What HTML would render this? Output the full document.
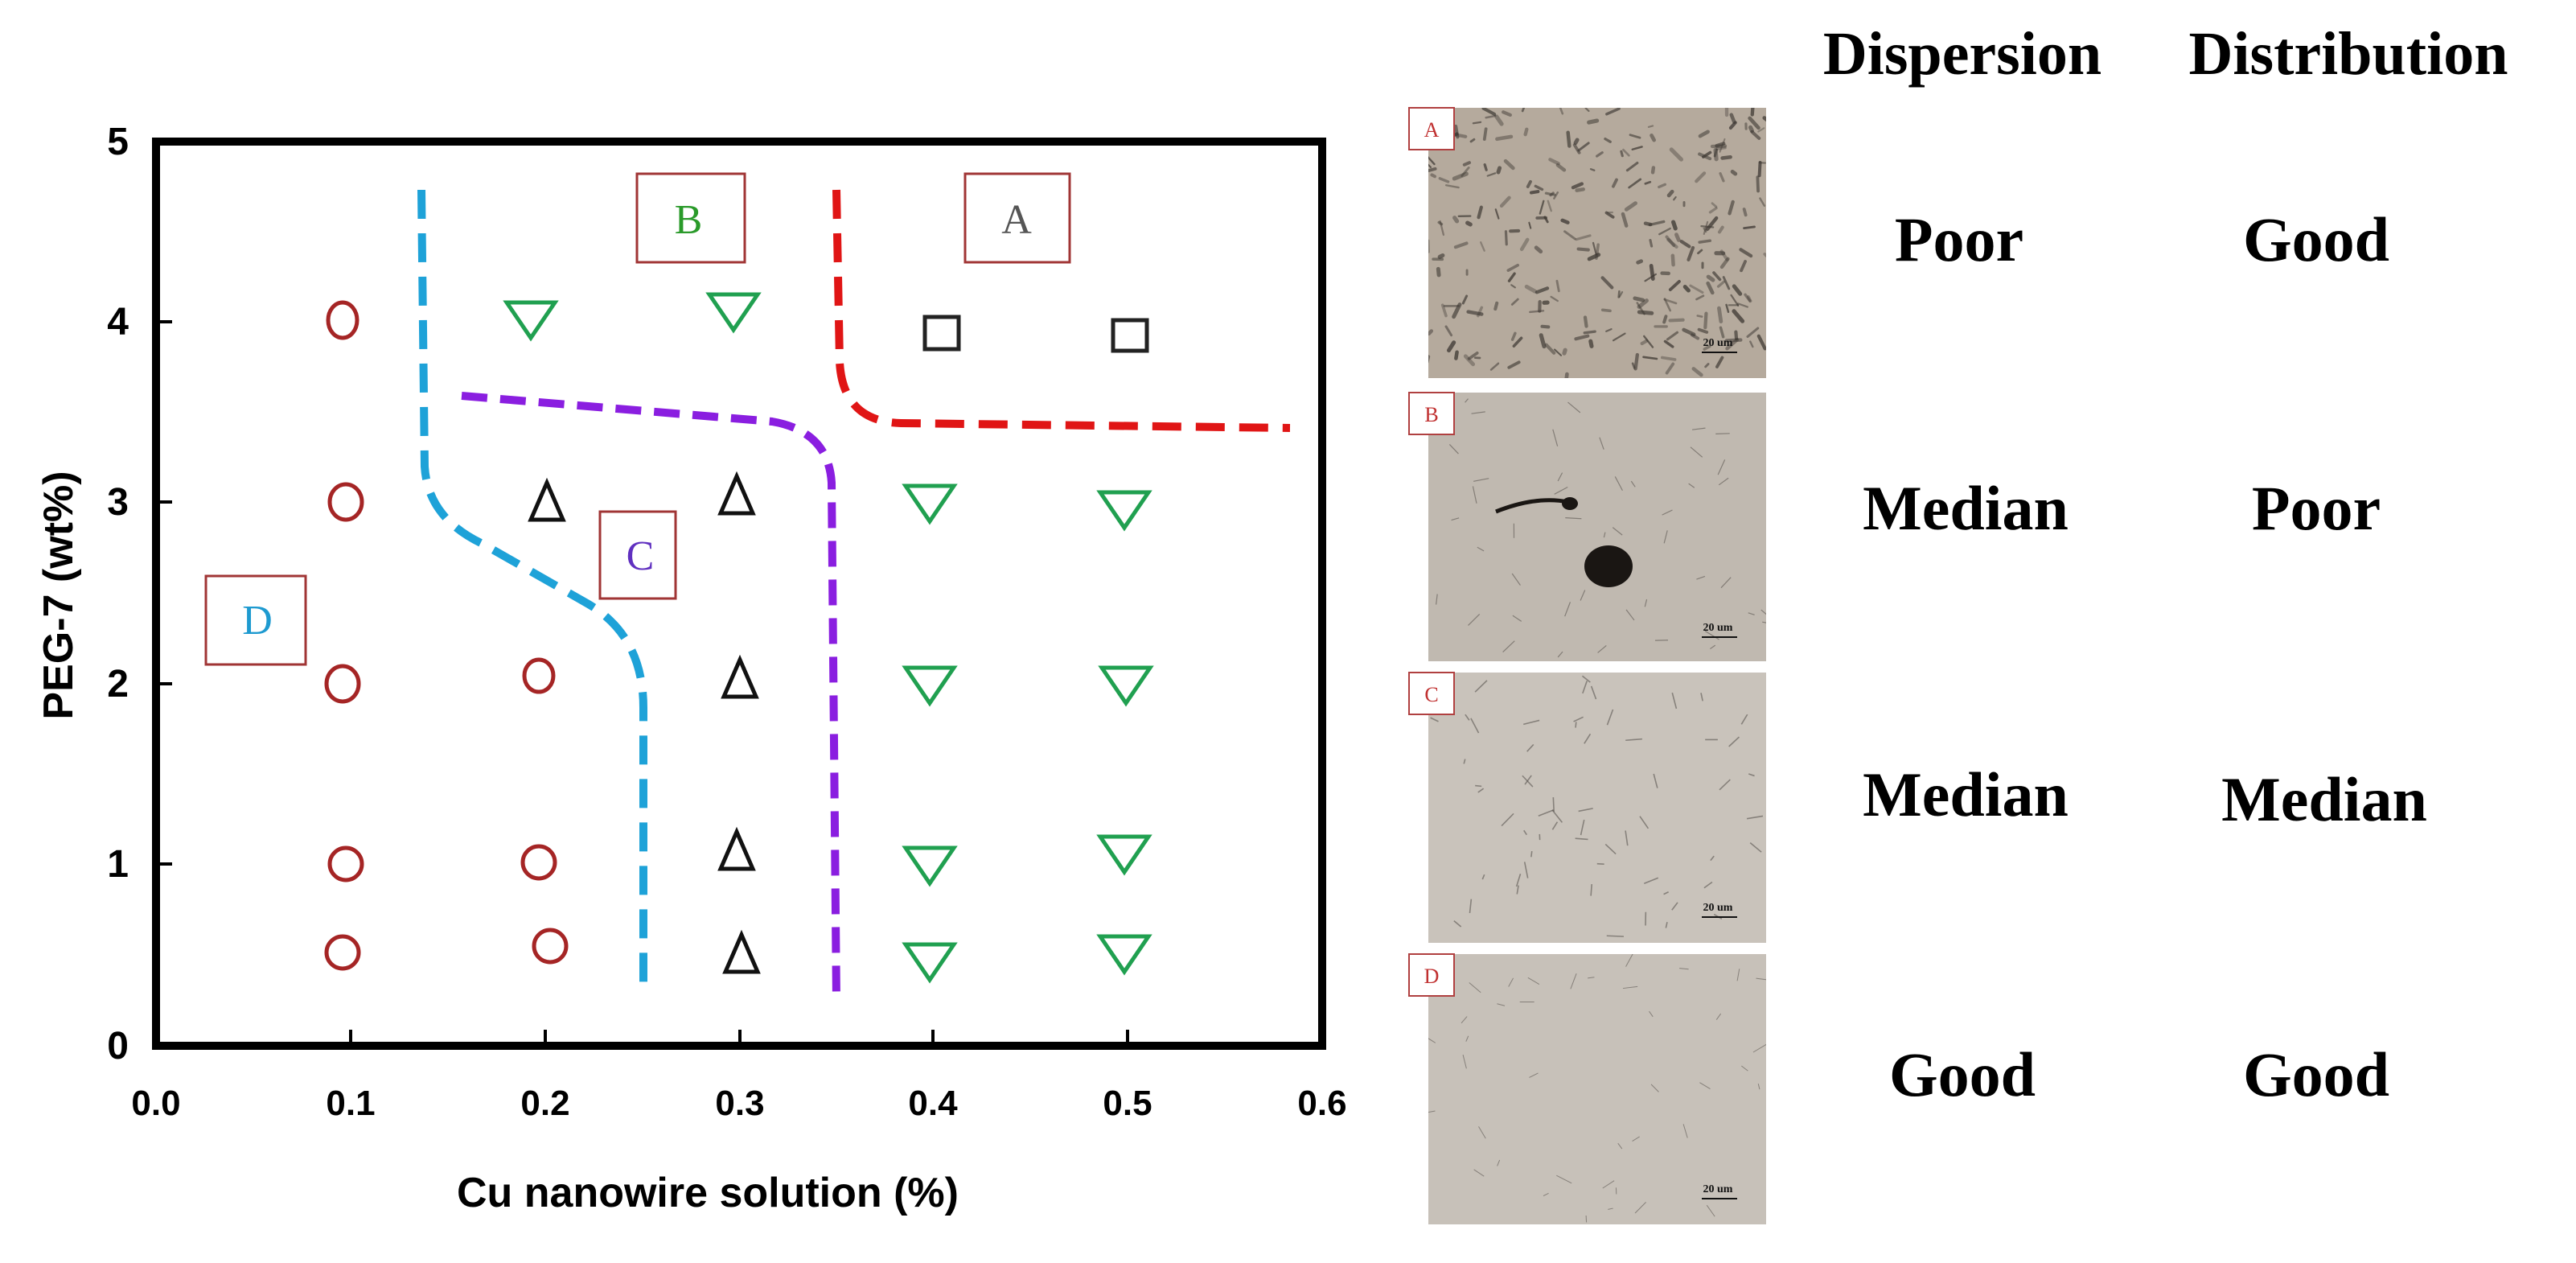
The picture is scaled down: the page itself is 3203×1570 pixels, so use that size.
<!DOCTYPE html>
<html><head><meta charset="utf-8"><style>
html,body{margin:0;padding:0;background:#fff;}
svg{display:block;}
.t{font-family:"Liberation Sans",Arial,sans-serif;font-weight:bold;}
.s{font-family:"Liberation Serif","Times New Roman",serif;}
</style></head><body>
<svg id="sv" width="3203" height="1570" viewBox="0 0 1601.5 785" xmlns="http://www.w3.org/2000/svg">
<defs>
<clipPath id="cA"><rect x="888" y="67" width="210" height="168"/></clipPath>
<clipPath id="cB"><rect x="888" y="244" width="210" height="167"/></clipPath>
<clipPath id="cC"><rect x="888" y="418" width="210" height="168"/></clipPath>
<clipPath id="cD"><rect x="888" y="593" width="210" height="168"/></clipPath>
</defs>
<rect x="97" y="88" width="725" height="562" fill="none" stroke="#000" stroke-width="5"/>
<g stroke="#000" stroke-width="2">
<line x1="218" y1="650" x2="218" y2="640"/><line x1="339" y1="650" x2="339" y2="640"/><line x1="460" y1="650" x2="460" y2="640"/><line x1="580" y1="650" x2="580" y2="640"/><line x1="701" y1="650" x2="701" y2="640"/>
<line x1="97" y1="200" x2="107" y2="200"/><line x1="97" y1="312" x2="107" y2="312"/><line x1="97" y1="425" x2="107" y2="425"/><line x1="97" y1="537" x2="107" y2="537"/>
</g>
<g class="t" font-size="22" text-anchor="middle">
<text x="97" y="693">0.0</text><text x="218" y="693">0.1</text><text x="339" y="693">0.2</text><text x="460" y="693">0.3</text><text x="580" y="693">0.4</text><text x="701" y="693">0.5</text><text x="822" y="693">0.6</text>
</g>
<g class="t" font-size="24" text-anchor="end">
<text x="80" y="96">5</text><text x="80" y="208">4</text><text x="80" y="320">3</text><text x="80" y="433">2</text><text x="80" y="545">1</text><text x="80" y="658">0</text>
</g>
<text class="t" x="440" y="750" font-size="26" text-anchor="middle">Cu nanowire solution (%)</text>
<text class="t" x="0" y="0" font-size="26" text-anchor="middle" transform="translate(45,370) rotate(-90)">PEG-7 (wt%)</text>

<path d="M262,118 L264,290 Q266,322 300,338 L365,375 Q400,395 400,440 L400,612" fill="none" stroke="#1ea2d8" stroke-width="5" stroke-dasharray="18,9"/>
<path d="M287,246 L480,262 Q515,268 517,300 L520,622" fill="none" stroke="#8a1ee0" stroke-width="5" stroke-dasharray="16,8"/>
<path d="M520,118 L522,225 Q524,262 560,263 L802,266" fill="none" stroke="#e01515" stroke-width="5" stroke-dasharray="18,9"/>

<g fill="#fff" stroke="#a03535" stroke-width="1.5">
<rect x="396" y="108" width="67" height="55"/><rect x="600" y="108" width="65" height="55"/>
<rect x="373" y="318" width="47" height="54"/><rect x="128" y="358" width="62" height="55"/>
</g>
<g class="s" font-size="26" text-anchor="middle">
<text x="428" y="145" fill="#2a9a2a">B</text><text x="632" y="145" fill="#555">A</text>
<text x="398" y="354" fill="#6030c0">C</text><text x="160" y="394" fill="#1e9ad0">D</text>
</g>

<g fill="none" stroke="#a52525" stroke-width="2.5">
<ellipse cx="213" cy="199" rx="9" ry="11"/><ellipse cx="215" cy="312" rx="10" ry="11"/><ellipse cx="213" cy="425" rx="10" ry="11"/>
<ellipse cx="215" cy="537" rx="10" ry="10"/><ellipse cx="213" cy="592" rx="10" ry="10"/>
<ellipse cx="335" cy="420" rx="9" ry="10"/><ellipse cx="335" cy="536" rx="10" ry="10"/><ellipse cx="342" cy="588" rx="10" ry="10"/>
</g>
<g fill="none" stroke="#20a050" stroke-width="2.5" id="gt"></g>
<g fill="none" stroke="#111" stroke-width="2.5" id="bt"></g>
<g fill="none" stroke="#222" stroke-width="2.5">
<rect x="575" y="197" width="21" height="20"/><rect x="692" y="199" width="21" height="19"/>
</g>

<g id="photos"></g>

<g class="s" font-weight="bold" text-anchor="middle" fill="#000">
<g font-size="38"><text x="1220" y="46">Dispersion</text><text x="1460" y="46">Distribution</text></g>
<g font-size="39">
<text x="1218" y="162">Poor</text><text x="1440" y="162">Good</text>
<text x="1222" y="329">Median</text><text x="1440" y="329">Poor</text>
<text x="1222" y="507">Median</text><text x="1445" y="510">Median</text>
<text x="1220" y="681">Good</text><text x="1440" y="681">Good</text>
</g></g>
</svg>
<script>
var NS="http://www.w3.org/2000/svg";
function el(p,t,a){var e=document.createElementNS(NS,t);for(var k in a)e.setAttribute(k,a[k]);p.appendChild(e);return e;}
var gt=document.getElementById("gt");
[[330,198],[456,193],[578,312],[699,316],[578,425],[700,425],[578,537],[699,530],[578,597],[699,592]].forEach(function(p){
 el(gt,"path",{d:"M"+(p[0]-15)+","+(p[1]-10)+" L"+(p[0]+15)+","+(p[1]-10)+" L"+p[0]+","+(p[1]+12)+" Z"});});
var bt=document.getElementById("bt");
[[340,312],[458,308],[460,422],[458,529],[461,593]].forEach(function(p){
 el(bt,"path",{d:"M"+(p[0]-10)+","+(p[1]+11)+" L"+(p[0]+10)+","+(p[1]+11)+" L"+p[0]+","+(p[1]-12)+" Z"});});
var ph=document.getElementById("photos");
var seed=7;function r(){seed=(seed*16807)%2147483647;return seed/2147483647;}
var cfg=[["A",67,"#b5aa9d",260,1.6,"cA"],["B",244,"#c0b9b0",45,0.6,"cB"],["C",418,"#c9c3bb",60,0.8,"cC"],["D",593,"#c7c1b9",40,0.5,"cD"]];
cfg.forEach(function(c){
 var y=c[1];var g=el(ph,"g",{"clip-path":"url(#"+c[5]+")"});
 el(g,"rect",{x:888,y:y,width:210,height:168,fill:c[2]});
 for(var i=0;i<c[3];i++){var x=888+r()*210,yy=y+r()*168;
  if(c[0]=="A"){var a=r()*6.28,l=2+r()*7;el(g,"line",{x1:x,y1:yy,x2:x+Math.cos(a)*l,y2:yy+Math.sin(a)*l,stroke:"#3a3530","stroke-width":1+r()*c[4],"stroke-linecap":"round","stroke-opacity":0.35+r()*0.4});}
  else{var a=r()*6.28,l=3+r()*8;el(g,"line",{x1:x,y1:yy,x2:x+Math.cos(a)*l,y2:yy+Math.sin(a)*l,stroke:"#5a5550","stroke-width":c[4],"stroke-opacity":0.6});}
 }
 if(c[0]=="B"){el(g,"ellipse",{cx:1000,cy:352,rx:15,ry:13,fill:"#1a1613"});
  el(g,"path",{d:"M930,318 Q955,308 975,312",stroke:"#1a1613","stroke-width":2.5,fill:"none"});
  el(g,"ellipse",{cx:976,cy:313,rx:5,ry:4,fill:"#1a1613"});}
 el(ph,"rect",{x:876,y:y,width:28,height:26,fill:"#fff",stroke:"#b04040","stroke-width":1});
 var t=el(ph,"text",{x:890,y:y+18,"font-size":13,"text-anchor":"middle",fill:"#c03030","font-family":"Liberation Serif,serif"});t.textContent=c[0];
 var s=el(ph,"text",{x:1068,y:y+148,"font-size":7,"text-anchor":"middle",fill:"#111","font-family":"Liberation Serif,serif","font-weight":"bold"});s.textContent="20 um";
 el(ph,"line",{x1:1058,y1:y+152,x2:1080,y2:y+152,stroke:"#111","stroke-width":1});
});
</script>
</body></html>
